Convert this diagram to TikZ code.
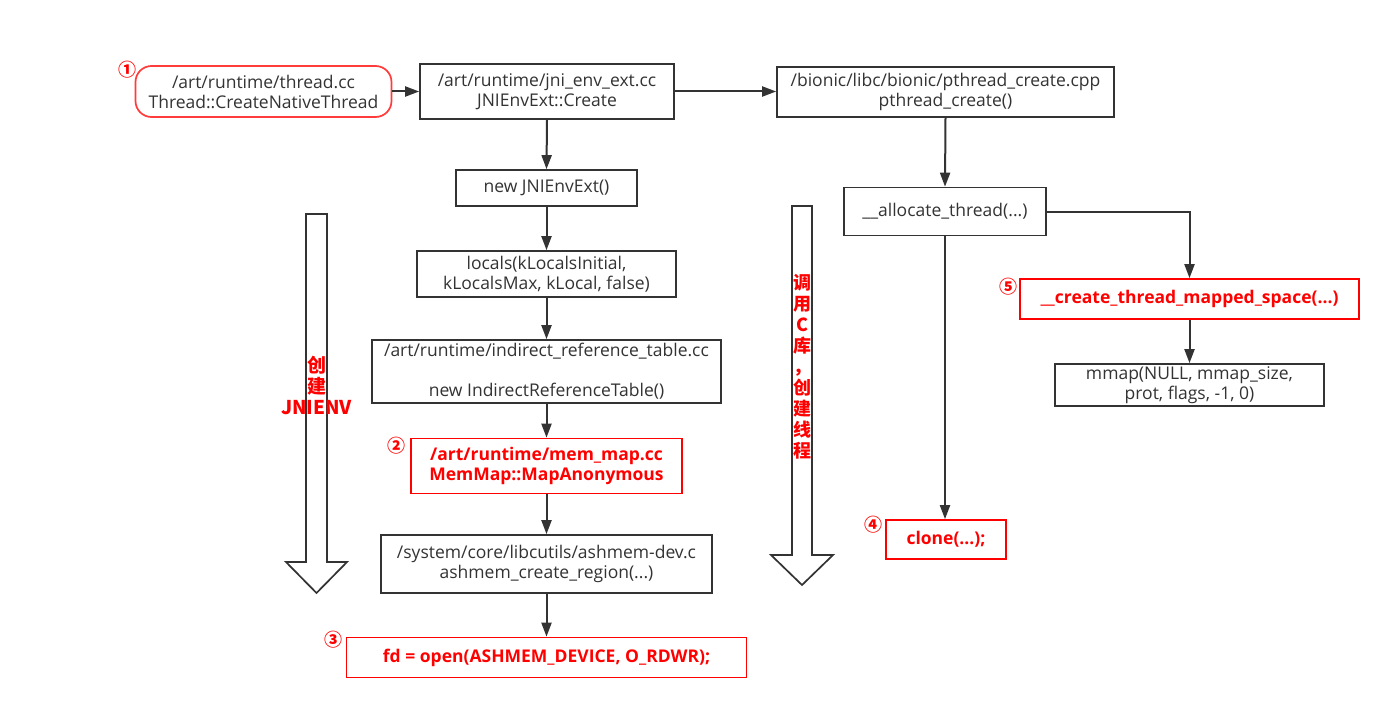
\documentclass[tikz,border=0pt]{standalone}
\usepackage{fontspec}
\setmainfont{Open Sans}
\newfontfamily\cjk{Noto Sans CJK SC}
\usetikzlibrary{arrows.meta}
\definecolor{ln}{HTML}{333333}
\definecolor{rd}{HTML}{FF0000}
\definecolor{rdl}{HTML}{FF3B3B}
\tikzset{
 box/.style={draw=ln, line width=1.7pt, fill=white, inner sep=0pt, align=center, text=ln, font=\fontsize{17.5}{20}\selectfont},
 redbox/.style={box, draw=rd, text=rd, font=\fontsize{17.5}{20}\selectfont\bfseries},
 flow/.style={draw=ln, line width=2pt, -{Triangle[length=14pt,width=10pt]}},
 num/.style={text=rd, font=\cjk\bfseries\fontsize{18}{18}\selectfont, inner sep=0pt},
 bigarrow/.style={draw=ln, line width=1.7pt, fill=white},
 vtext/.style={text=rd, font=\cjk\bfseries\fontsize{18}{21}\selectfont, align=center, inner sep=0pt},
}
\begin{document}
\begin{tikzpicture}[x=1pt,y=-1pt]
\useasboundingbox[fill=white] (0,0) rectangle (1390,709);
% big hollow arrows
\draw[bigarrow] (306,214) -- (327,214) -- (327,562) -- (347,562) -- (316.5,593) -- (286,562) -- (306,562) -- cycle;
\node[vtext, font=\cjk\bfseries\fontsize{19}{21}\selectfont] (t1) at (316.5,385) {创\\建\\JNIENV};
\draw[bigarrow] (792,206) -- (812,206) -- (812,555) -- (833,555) -- (802,585) -- (771,555) -- (792,555) -- cycle;
\node[vtext] (t2) at (802,367) {调\\用\\C\\库\\，\\创\\建\\线\\程};
% boxes
\node[box, rounded corners=16pt, draw=rdl, minimum width=256pt, minimum height=51pt] (ct) at (263.5,91.5) {/art/runtime/thread.cc\\Thread::CreateNativeThread};
\node[box, minimum width=254pt, minimum height=55pt] (jni) at (547,91.5) {/art/runtime/jni\_env\_ext.cc\\JNIEnvExt::Create};
\node[box, minimum width=337pt, minimum height=50pt] (pc) at (945.5,92) {/bionic/libc/bionic/pthread\_create.cpp\\pthread\_create()};
\node[box, minimum width=181pt, minimum height=36pt] (nj) at (546.5,188) {new JNIEnvExt()};
\node[box, minimum width=259pt, minimum height=46pt] (lc) at (546.5,274) {locals(kLocalsInitial,\\kLocalsMax, kLocal, false)};
\node[box, minimum width=349pt, minimum height=63pt] (irt) at (546.5,371.5) {/art/runtime/indirect\_reference\_table.cc\\\mbox{}\\new IndirectReferenceTable()};
\node[redbox, minimum width=271pt, minimum height=55pt] (mm) at (546.5,466) {/art/runtime/mem\_map.cc\\MemMap::MapAnonymous};
\node[box, minimum width=331pt, minimum height=58pt] (ash) at (546.5,564) {/system/core/libcutils/ashmem-dev.c\\ashmem\_create\_region(...)};
\node[redbox, minimum width=400pt, minimum height=40pt] (fd) at (546.5,657.5) {fd = open(ASHMEM\_DEVICE, O\_RDWR);};
\node[box, minimum width=202pt, minimum height=48pt] (al) at (945,211.5) {\_\_allocate\_thread(...)};
\node[redbox, minimum width=339pt, minimum height=40pt] (cs) at (1189.5,299) {\_\_create\_thread\_mapped\_space(...)};
\node[box, minimum width=269pt, minimum height=42pt] (mp) at (1189.5,385) {mmap(NULL, mmap\_size,\\prot, flags, -1, 0)};
\node[redbox, minimum width=120pt, minimum height=39pt] (cl) at (946,539.5) {clone(...);};
% numbers
\node[num] (n1) at (127,70) {①};
\node[num] (n2) at (396,446) {②};
\node[num] (n3) at (333,640) {③};
\node[num] (n4) at (873,525) {④};
\node[num] (n5) at (1008,287) {⑤};
% connectors
\draw[flow] (ct.east) -- (jni.west);
\draw[flow] (jni.east) -- (jni.east -| pc.west);
\draw[flow] (jni.south) -- (nj.north);
\draw[flow] (nj.south) -- (lc.north);
\draw[flow] (lc.south) -- (irt.north);
\draw[flow] (irt.south) -- (mm.north);
\draw[flow] (mm.south) -- (ash.north);
\draw[flow] (ash.south) -- (fd.north);
\draw[flow] (pc.south) -- (al.north);
\draw[flow] (al.south) -- (al.south |- cl.north);
\draw[flow] (al.east) -| (cs.north);
\draw[flow] (cs.south) -- (mp.north);
\end{tikzpicture}
\end{document}
